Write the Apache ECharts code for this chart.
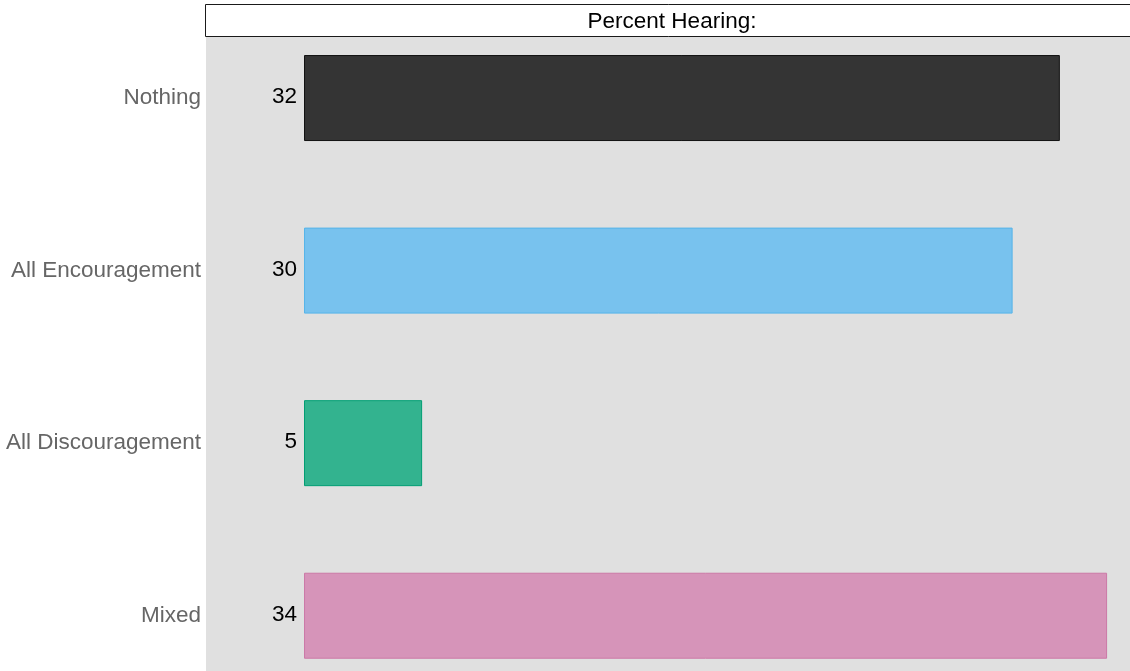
<!DOCTYPE html>
<html>
<head>
<meta charset="utf-8">
<title>Percent Hearing</title>
<script src="https://cdn.jsdelivr.net/npm/echarts@6/dist/echarts.min.js"></script>
<style>
  html, body { margin: 0; padding: 0; background: #ffffff; overflow: hidden; }
  /* The panel runs past the bottom edge of the window, so the canvas is taller than the view */
  #chart { width: 1130px; height: 702px; }
</style>
</head>
<body>
<div id="chart"></div>
<script>
// Categories, top to bottom
const categories = ['Nothing', 'All Encouragement', 'All Discouragement', 'Mixed'];
// Percent hearing each kind of message
const percentValues = [32, 30, 5, 34];
// Fill and outline colours per category
const fillColors = ['#343434', '#78c2ee', '#33b38f', '#d694b9'];
const borderColors = ['#111111', '#56b4e9', '#009e73', '#cc79a7'];
const stripTitle = 'Percent Hearing:';

const FONT = '"Liberation Sans", Arial, sans-serif';

const chart = echarts.init(document.getElementById('chart'), null, { renderer: 'canvas' });

chart.setOption({
  animation: false,
  backgroundColor: '#ffffff',
  grid: {
    left: 206,
    right: 0,
    top: 11.75,
    bottom: 0,
    containLabel: false,
    show: true,
    backgroundColor: '#e0e0e0',
    borderWidth: 0
  },
  xAxis: {
    type: 'value',
    min: -4.15,
    max: 34.97,
    show: false
  },
  yAxis: {
    type: 'category',
    data: categories,
    inverse: true,
    axisLine: { show: false },
    axisTick: { show: false },
    splitLine: { show: false },
    axisLabel: {
      color: '#666666',
      fontSize: 22.5,
      fontFamily: FONT,
      margin: 5,
      padding: [5, 0, 0, 0]
    }
  },
  series: [{
    type: 'bar',
    barWidth: 86,
    data: percentValues.map((v, i) => ({
      value: v,
      itemStyle: {
        color: fillColors[i],
        borderColor: borderColors[i],
        borderWidth: 1
      }
    })),
    label: {
      show: true,
      position: 'insideLeft',
      offset: [-7, -1],
      align: 'right',
      distance: 0,
      color: '#000000',
      fontSize: 22.5,
      fontFamily: FONT,
      formatter: p => String(p.value)
    }
  }],
  graphic: [{
    type: 'group',
    z: 100,
    children: [{
      type: 'rect',
      shape: { x: 205.5, y: 4.5, width: 940, height: 32 },
      style: { fill: '#ffffff', stroke: '#1a1a1a', lineWidth: 1 }
    }, {
      type: 'text',
      x: 672,
      y: 21.5,
      style: {
        text: stripTitle,
        fill: '#000000',
        fontSize: 22.5,
        fontFamily: FONT,
        align: 'center',
        verticalAlign: 'middle'
      }
    }]
  }]
});
</script>
</body>
</html>
